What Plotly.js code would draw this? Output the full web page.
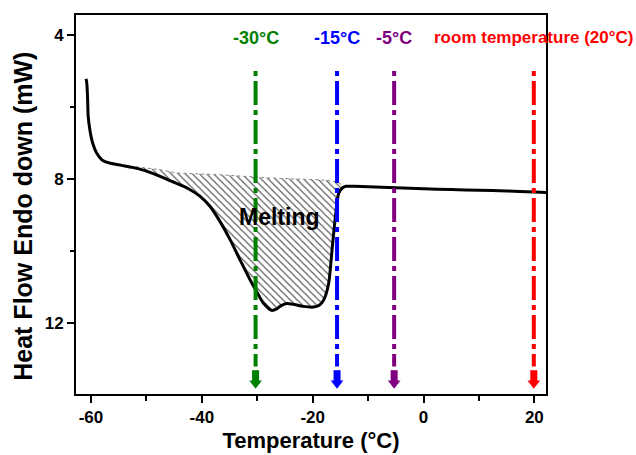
<!DOCTYPE html>
<html>
<head>
<meta charset="utf-8">
<script src="https://cdn.plot.ly/plotly-3.0.1.min.js"></script>
<style>html,body{margin:0;padding:0;background:#fff;}#chart{width:636px;height:455px;}</style>
</head>
<body>
<div id="chart"></div>
<script>
// DSC curve (Temperature in °C, Heat flow in mW, endo down)
const tempC = [-60.9, -60.8, -60.7, -60.6, -60.5, -60.2, -59.7, -58.9, -58.0, -56.5, -54.5, -51.5, -48.5, -45.5, -42.5, -40.3, -38.5, -36.7, -34.9, -33.1, -31.3, -30.1, -28.9, -27.4, -26.5, -25.9, -24.7, -23.5, -21.7, -19.9, -18.8, -18.0, -17.1, -16.5, -15.9, -15.3, -14.6, -14.0, -12.5, -10.0, -5.0, 0, 5, 10, 15, 20, 22.1];
const heatFlow = [5.22, 5.28, 5.45, 5.8, 6.26, 6.63, 7.0, 7.30, 7.47, 7.56, 7.62, 7.71, 7.86, 8.06, 8.26, 8.48, 8.76, 9.18, 9.68, 10.24, 10.79, 11.12, 11.44, 11.64, 11.6, 11.53, 11.45, 11.47, 11.53, 11.55, 11.5, 11.35, 10.88, 9.96, 9.04, 8.39, 8.24, 8.2, 8.2, 8.21, 8.24, 8.27, 8.29, 8.31, 8.33, 8.36, 8.37];

// Baseline of the melting peak (top edge of hatched area)
const baseT = [-51.9, -47.5, -44.5, -36.7, -27.7, -18.7, -15.6, -14.4];
const baseH = [7.66, 7.74, 7.83, 7.88, 7.97, 8.02, 8.07, 8.2];

// Marked temperatures
const markT = [-30.3, -15.6, -5.3, 19.9];
const markLabels = ['-30°C', '-15°C', '-5°C', 'room temperature (20°C)'];
const markColors = ['#008000', '#0000ff', '#800080', '#ff0000'];

const xTicks = [-60, -40, -20, 0, 20];
const yTicks = [4, 8, 12];

const FONT = 'Liberation Sans, Arial, sans-serif';

// hatched polygon: baseline left->right then curve right->left
const hx = baseT.slice();
const hy = baseH.slice();
for (let i = tempC.length - 1; i >= 0; i--) {
  if (tempC[i] > baseT[0] && tempC[i] < baseT[baseT.length - 1]) { hx.push(tempC[i]); hy.push(heatFlow[i]); }
}
hx.push(baseT[0]); hy.push(baseH[0]);

const traces = [];
traces.push({
  x: hx, y: hy, type: 'scatter', mode: 'lines', fill: 'toself',
  fillcolor: 'rgba(0,0,0,0)',
  fillpattern: {shape: '\\', size: 5, solidity: 0.22, fgcolor: '#555', bgcolor: 'rgba(255,255,255,0)'},
  line: {width: 0, color: 'rgba(0,0,0,0)'}, hoverinfo: 'skip', showlegend: false
});
traces.push({
  x: baseT, y: baseH, type: 'scatter', mode: 'lines',
  line: {color: '#888', width: 1, dash: 'dot'}, showlegend: false
});
traces.push({
  x: tempC, y: heatFlow, type: 'scatter', mode: 'lines',
  line: {color: '#000', width: 3, shape: 'spline', smoothing: 0.6}, showlegend: false
});
markT.forEach((t, i) => {
  traces.push({
    x: [t, t], y: [5.0, 13.2], type: 'scatter', mode: 'lines',
    line: {color: markColors[i], width: 4, dash: '5px,5px,24px,5px'}, showlegend: false
  });
  // arrow head: short thick shaft + triangle
  traces.push({
    x: [t, t], y: [13.3, 13.6], type: 'scatter', mode: 'lines',
    line: {color: markColors[i], width: 7}, showlegend: false
  });
  traces.push({
    x: [t], y: [13.66], type: 'scatter', mode: 'markers',
    marker: {symbol: 'triangle-down', size: 11, color: markColors[i], line: {width: 0}}, showlegend: false, cliponaxis: false
  });
});

const annotations = markT.map((t, i) => ({
  x: t, y: 4.08, xref: 'x', yref: 'y', text: markLabels[i], showarrow: false,
  font: {family: FONT, size: i === 3 ? 17 : 18, color: markColors[i], weight: 700},
  xanchor: 'center', yanchor: 'middle'
}));
annotations.push({
  x: -25.9, y: 9.04, xref: 'x', yref: 'y', text: 'Melting', showarrow: false,
  font: {family: FONT, size: 23, color: '#000', weight: 700}, xanchor: 'center', yanchor: 'middle'
});
// y-axis title (placed as in the reference, slightly below plot centre)
annotations.push({
  x: -0.113, y: 0.47, xref: 'paper', yref: 'paper', text: 'Heat Flow Endo down (mW)', showarrow: false,
  textangle: -90, xanchor: 'center', yanchor: 'middle',
  font: {family: FONT, size: 25, color: '#000', weight: 700}
});

const layout = {
  width: 636, height: 455,
  margin: {l: 76, r: 90, t: 15, b: 61},
  paper_bgcolor: '#fff', plot_bgcolor: '#fff',
  showlegend: false,
  xaxis: {
    range: [-62.7, 22.1], tickvals: xTicks, ticktext: xTicks.map(String),
    ticks: 'outside', ticklen: 7, tickwidth: 2, tickcolor: '#000',
    minor: {dtick: 10, tick0: 0, ticks: 'outside', ticklen: 5, tickwidth: 2, tickcolor: '#000'},
    showline: true, linewidth: 2, linecolor: '#000', mirror: true,
    showgrid: false, zeroline: false,
    tickfont: {family: FONT, size: 17, color: '#000', weight: 700},
    title: {text: 'Temperature (°C)', font: {family: FONT, size: 22, color: '#000', weight: 700}, standoff: 6}
  },
  yaxis: {
    range: [13.96, 3.45], tickvals: yTicks, ticktext: yTicks.map(String),
    ticks: 'outside', ticklen: 7, tickwidth: 2, tickcolor: '#000',
    minor: {dtick: 2, tick0: 0, ticks: 'outside', ticklen: 4, tickwidth: 2, tickcolor: '#000'},
    showline: true, linewidth: 2, linecolor: '#000', mirror: true,
    showgrid: false, zeroline: false,
    tickfont: {family: FONT, size: 17, color: '#000', weight: 700}
  },
  annotations: annotations
};

Plotly.newPlot('chart', traces, layout, {displayModeBar: false, staticPlot: true});
</script>
</body>
</html>
